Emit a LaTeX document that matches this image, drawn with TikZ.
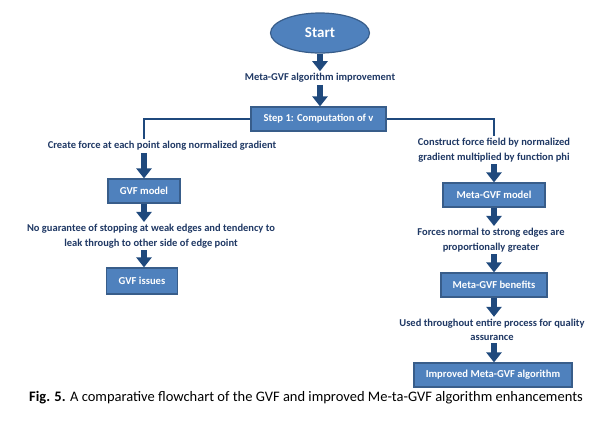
\documentclass[tikz,border=0pt]{standalone}
\usepackage{fontspec}
\setmainfont{Carlito}
\usetikzlibrary{positioning,shapes.geometric,arrows.meta}
\definecolor{boxblue}{RGB}{79,129,189}
\definecolor{boxedge}{RGB}{56,93,138}
\definecolor{arrowblue}{RGB}{31,73,125}
\definecolor{labelblue}{RGB}{31,56,100}
\begin{document}
\begin{tikzpicture}[
		x=1pt, y=-1pt,
		node distance=45pt,
		procbox/.style={draw=boxedge, fill=boxblue, line width=1.2pt, text=white, minimum height=24pt, inner sep=2pt, font=\bfseries\fontsize{10.6}{12}\selectfont},
		notetext/.style={text=labelblue, align=center, inner sep=2pt, font=\bfseries\fontsize{10.5}{14.5}\selectfont},
		flowarrow/.style={arrowblue, line width=6pt, -{Triangle[length=10pt,width=15pt]}},
		branch/.style={arrowblue, line width=2pt}
		]
		\useasboundingbox (0,0) rectangle (598,432);
		% Top
		\node[ellipse, draw=boxedge, fill=boxblue, line width=1.2pt, minimum width=99pt, minimum height=40pt, text=white, font=\bfseries\fontsize{15}{17}\selectfont] (start) at (320,33) {Start};
		\node[notetext, below of=start] (improve) {Meta-GVF algorithm improvement};
		\node[procbox, minimum width=135pt, below of=improve, node distance=41pt, xshift=-1.5pt] (step) {Step 1: Computation of v};
		
		% GVF branch
		\node[notetext] (create) at (162,146) {Create force at each point along normalized gradient};
		\node[procbox, minimum width=72pt, below of=create, xshift=-18pt] (gvf) {GVF model};
		\node[notetext, below of=gvf, xshift=7pt] (noguar) {No guarantee of stopping at weak edges and tendency to\\leak through to other side of edge point};
		\node[procbox, minimum width=71pt, minimum height=26pt, below of=noguar, xshift=-9pt] (issues) {GVF issues};
		
		% Meta-GVF branch
		\node[notetext] (construct) at (494,150) {Construct force field by normalized\\gradient multiplied by function phi};
		\node[procbox, minimum width=102pt, below of=construct] (model) {Meta-GVF model};
		\node[notetext, below of=model, xshift=-3pt] (forces) {Forces normal to strong edges are\\proportionally greater};
		\node[procbox, minimum width=106pt, below of=forces, xshift=3pt] (benefits) {Meta-GVF benefits};
		\node[notetext, below of=benefits, xshift=-2pt] (used) {Used throughout entire process for quality\\assurance};
		\node[procbox, minimum width=158pt, below of=used, xshift=1pt] (improved) {Improved Meta-GVF algorithm};
		
		% Caption
		\node[inner sep=0pt, font=\fontsize{14.5}{16}\selectfont] (caption) at (306,398) {\textbf{Fig. 5.} A comparative flowchart of the GVF and improved Me-ta-GVF algorithm enhancements};
		
		% Arrows
		\draw[flowarrow] (start) -- (improve);
		\draw[flowarrow] (improve) -- (step.north -| improve);
		\draw[branch] (step.west) -| (gvf |- create.north);
		\draw[branch] (step.east) -| (construct.north);
		\draw[flowarrow] (gvf |- create.south) -- (gvf.north);
		\draw[flowarrow] (gvf.south) -- (gvf |- noguar.north);
		\draw[flowarrow] (gvf |- noguar.south) -- (gvf |- issues.north);
		\draw[flowarrow] (construct) -- (model);
		\draw[flowarrow] (model.south) -- (model |- forces.north);
		\draw[flowarrow] (model |- forces.south) -- (benefits.north);
		\draw[flowarrow] (benefits.south) -- (benefits |- used.north);
		\draw[flowarrow] (benefits |- used.south) -- (benefits |- improved.north);
	\end{tikzpicture}
\end{document}
